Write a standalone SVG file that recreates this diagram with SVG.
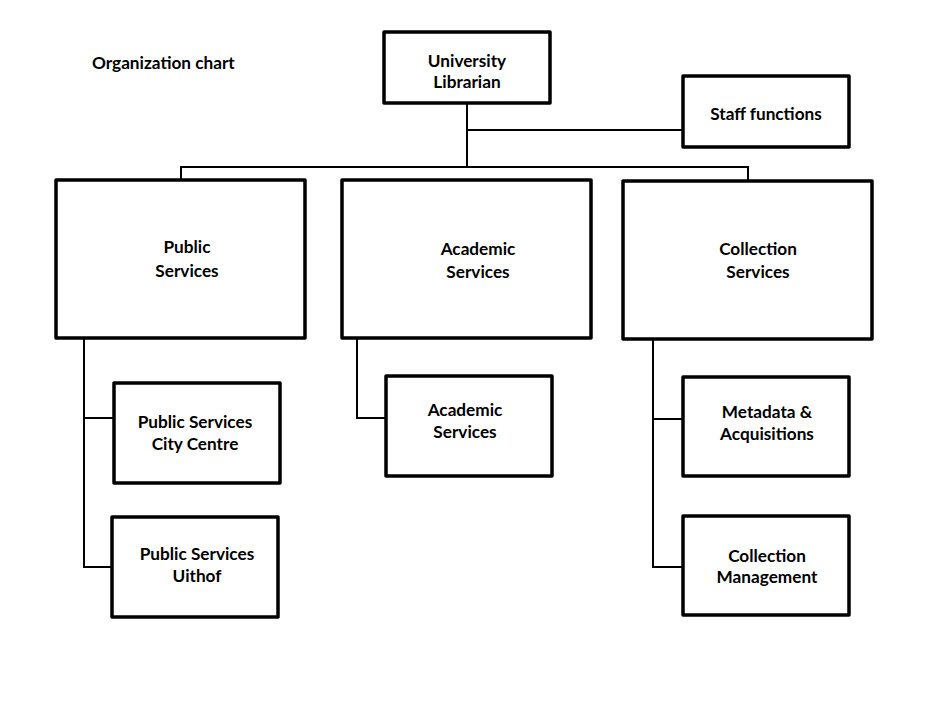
<svg xmlns="http://www.w3.org/2000/svg" width="950" height="711" viewBox="0 0 950 711">
<style>
.box{fill:#fff;stroke:#000;stroke-width:3.5;stroke-linejoin:round}
.t{font-family:Lato,"Open Sans","Liberation Sans",sans-serif;font-weight:bold;font-size:17.2px;fill:#000;text-anchor:middle}
.c{fill:none;stroke:#000;stroke-width:2}
</style>
<rect width="950" height="711" fill="#fff"/>
<text class="t" x="92" y="69" style="text-anchor:start">Organization chart</text>
<g id="connectors">
<path class="c" d="M467 104V167M467 130H682M181 180V167H748V180"/>
<path class="c" d="M84 339V567H111M84 418H113"/>
<path class="c" d="M357 339V418H385"/>
<path class="c" d="M653 340V567H682M653 419H682"/>
</g>
<g id="librarian"><rect class="box" x="384" y="32" width="166" height="71"/><text class="t" x="467" y="67">University</text><text class="t" x="467" y="88">Librarian</text></g>
<g id="staff"><rect class="box" x="683" y="76" width="166" height="71"/><text class="t" x="766" y="120">Staff functions</text></g>
<g id="public"><rect class="box" x="56" y="180" width="249" height="158"/><text class="t" x="187" y="253">Public</text><text class="t" x="187" y="277">Services</text></g>
<g id="academic"><rect class="box" x="342" y="180" width="249" height="158"/><text class="t" x="478" y="255">Academic</text><text class="t" x="478" y="278">Services</text></g>
<g id="collection"><rect class="box" x="623" y="181" width="249" height="158"/><text class="t" x="758" y="255">Collection</text><text class="t" x="758" y="278">Services</text></g>
<g id="city"><rect class="box" x="114" y="383" width="166" height="100"/><text class="t" x="195" y="428">Public Services</text><text class="t" x="195" y="450">City Centre</text></g>
<g id="uithof"><rect class="box" x="112" y="517" width="166" height="100"/><text class="t" x="197" y="560">Public Services</text><text class="t" x="197" y="582">Uithof</text></g>
<g id="academic2"><rect class="box" x="386" y="376" width="166" height="100"/><text class="t" x="465" y="416">Academic</text><text class="t" x="465" y="438">Services</text></g>
<g id="metadata"><rect class="box" x="683" y="377" width="166" height="99"/><text class="t" x="767" y="418">Metadata &amp;</text><text class="t" x="767" y="440">Acquisitions</text></g>
<g id="collmgmt"><rect class="box" x="683" y="516" width="166" height="99"/><text class="t" x="767" y="562">Collection</text><text class="t" x="767" y="583">Management</text></g>
</svg>
